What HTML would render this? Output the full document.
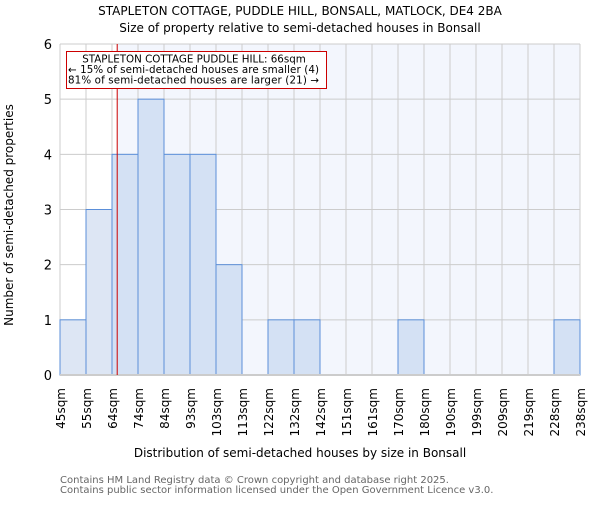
<!DOCTYPE html>
<html><head><meta charset="utf-8"><style>body{margin:0;background:#fff}svg{font-family:"DejaVu Sans","Liberation Sans",sans-serif}</style></head>
<body>
<svg id="c" width="600" height="500" xmlns="http://www.w3.org/2000/svg">
<text x="300" y="15" text-anchor="middle" font-size="12">STAPLETON COTTAGE, PUDDLE HILL, BONSALL, MATLOCK, DE4 2BA</text>
<text x="300" y="32" text-anchor="middle" font-size="12">Size of property relative to semi-detached houses in Bonsall</text>
<g id="plot"></g>
<text x="300" y="457" text-anchor="middle" font-size="12">Distribution of semi-detached houses by size in Bonsall</text>
<text transform="translate(13,215) rotate(-90)" text-anchor="middle" font-size="12">Number of semi-detached properties</text>
<text x="60" y="483" font-size="10" fill="#666">Contains HM Land Registry data © Crown copyright and database right 2025.</text>
<text x="60" y="493" font-size="10" fill="#666">Contains public sector information licensed under the Open Government Licence v3.0.</text>
</svg>
<script>
const edges=["45sqm","55sqm","64sqm","74sqm","84sqm","93sqm","103sqm","113sqm","122sqm","132sqm","142sqm","151sqm","161sqm","170sqm","180sqm","190sqm","199sqm","209sqm","219sqm","228sqm","238sqm"];
const edgeValues=[45,55,64,74,84,93,103,113,122,132,142,151,161,170,180,190,199,209,219,228,238];
const counts=[1,3,4,5,4,4,2,0,1,1,0,0,0,1,0,0,0,0,0,1];
const yTicks=[0,1,2,3,4,5,6];
const propertySize=66;
const NS="http://www.w3.org/2000/svg";
const X0=60,X1=580,Y0=375,Y1=44,YMAX=6;
const bw=(X1-X0)/counts.length;
const xi=i=>X0+i*bw;
const y=v=>Y0-(v/YMAX)*(Y0-Y1);
function xv(v){for(let i=0;i<edgeValues.length-1;i++){if(v<=edgeValues[i+1])return xi(i)+bw*(v-edgeValues[i])/(edgeValues[i+1]-edgeValues[i]);}return X1;}
const g=document.getElementById('plot');
function mk(t,a){const e=document.createElementNS(NS,t);for(const k in a)e.setAttribute(k,a[k]);g.appendChild(e);return e;}
const px=xv(propertySize);
let e=mk('rect',{x:px,y:Y1,width:X1-px,height:Y0-Y1,fill:'#f3f6fd'});


for(let i=0;i<edges.length;i++){e=mk('line',{x1:xi(i),x2:xi(i),y1:Y1,y2:Y0,stroke:'#ccc'});

}
yTicks.forEach(t=>{e=mk('line',{x1:X0,x2:X1,y1:y(t),y2:y(t),stroke:'#ccc'});


e=mk('text',{x:X0-8,y:y(t)+5,'text-anchor':'end','font-size':13});e.textContent=t;

});
counts.forEach((c,i)=>{if(c<=0)return;const left=xi(i)+bw<=px;
e=mk('rect',{x:xi(i),y:y(c),width:bw,height:Y0-y(c),fill:left?'#dde6f4':'#d4e1f4',stroke:'#5b8fd9','stroke-width':1});

});
e=mk('line',{x1:X0,x2:X1,y1:Y0,y2:Y0,stroke:'#ccc','stroke-width':2});


edges.forEach((l,i)=>{e=mk('text',{transform:`translate(${xi(i)+5},388) rotate(-90)`,'text-anchor':'end','font-size':12});e.textContent=l;

});
e=mk('line',{x1:px,x2:px,y1:Y1,y2:Y0,stroke:'#c00','stroke-width':1});


e=mk('rect',{x:66.5,y:51.5,width:260,height:37,fill:'#fff',stroke:'#c00'});


["STAPLETON COTTAGE PUDDLE HILL: 66sqm","← 15% of semi-detached houses are smaller (4)","81% of semi-detached houses are larger (21) →"].forEach((s,k)=>{
e=mk('text',{x:k==0?194:68,y:62.5+k*10.5,'text-anchor':k==0?'middle':'start','font-size':10.3,'textLength':k==0?0:251});if(k==0)e.removeAttribute('textLength');e.textContent=s;

});
</script>
</body></html>
